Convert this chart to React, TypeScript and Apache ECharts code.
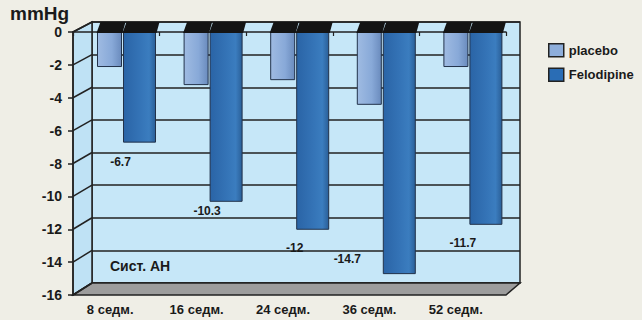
import React, { useEffect, useRef } from "react";
import * as echarts from "echarts";

const categories = ["8 седм.", "16 седм.", "24 седм.", "36 седм.", "52 седм."];
const placebo = [-2.1, -3.2, -2.9, -4.4, -2.1];
const felodipine = [-6.7, -10.3, -12, -14.7, -11.7];
const felLabelOffsets = [[-19, 20], [-19, 10], [-18, 19], [-52, -15], [-23, 19]];
const yTicks = [0, -2, -4, -6, -8, -10, -12, -14, -16];

const FONT = "Liberation Sans, Arial, sans-serif";
const DARK = "#1a1a1a";

function makeRender(kind: "placebo" | "fel") {
  return (params: any, api: any) => {
    const ci = api.value(0);
    const v = api.value(1);
    const [cx, yv] = api.coord([ci, v]);
    const [, y0] = api.coord([ci, 0]);
    const w = kind === "placebo" ? 24 : 32;
    const x0 = kind === "placebo" ? cx - 26 : cx;
    const fill =
      kind === "placebo"
        ? new echarts.graphic.LinearGradient(0, 0, 1, 0, [
            { offset: 0, color: "#9fbbe2" },
            { offset: 0.6, color: "#88a9d8" },
            { offset: 1, color: "#6a8bbd" },
          ])
        : new echarts.graphic.LinearGradient(0, 0, 1, 0, [
            { offset: 0, color: "#2a64a6" },
            { offset: 0.5, color: "#3473b6" },
            { offset: 0.8, color: "#3b7dbf" },
            { offset: 1, color: "#2a5f98" },
          ]);
    const children: any[] = [
      {
        type: "rect",
        shape: { x: x0, y: y0, width: w, height: yv - y0 },
        style: { fill, stroke: "#22324a", lineWidth: 1 },
      },
      {
        type: "polygon",
        shape: {
          points: [
            [x0 - 1, y0 + 1],
            [x0 + w + 1, y0 + 1],
            [x0 + w + 4, y0 - 10],
            [x0 + 3, y0 - 10],
          ],
        },
        style: { fill: "#141414" },
      },
    ];
    if (kind === "fel") {
      const off = felLabelOffsets[ci];
      children.push({
        type: "text",
        x: x0 + w / 2 + off[0],
        y: yv + off[1],
        style: {
          text: String(v),
          fill: DARK,
          font: `bold 12px ${FONT}`,
          align: "center",
          verticalAlign: "middle",
        },
      });
    }
    return { type: "group", children };
  };
}

export default function App() {
  const ref = useRef<HTMLDivElement>(null);
  useEffect(() => {
    const chart = echarts.init(ref.current!, undefined, { renderer: "svg" });
    chart.setOption({
      animation: false,
      backgroundColor: "#efeee6",
      textStyle: { fontFamily: FONT },
      grid: [
        { left: 92, top: 22, width: 428, height: 261, show: true, backgroundColor: "#c6e7f8", borderColor: "#222", borderWidth: 1.5, z: 0 },
        { left: 73, top: 32, width: 433, height: 263 },
        { left: 67, top: 32, width: 432, height: 263 },
        { left: 80.2, top: 32, width: 433, height: 263 },
      ],
      xAxis: [
        { type: "category", gridIndex: 0, data: categories, show: false },
        {
          type: "category",
          gridIndex: 1,
          data: categories,
          z: 3,
          axisLine: { show: true, lineStyle: { color: "#222", width: 1.5 } },
          axisTick: { show: true, length: 4, lineStyle: { color: "#222", width: 1.2 } },
          axisLabel: { show: false },
        },
        {
          type: "category",
          gridIndex: 2,
          data: categories,
          axisLine: { show: false },
          axisTick: { show: false },
          axisLabel: { show: true, margin: 8, color: DARK, fontWeight: "bold", fontSize: 13, fontFamily: FONT },
        },
        { type: "category", gridIndex: 3, data: categories, show: false },
      ],
      yAxis: [
        {
          type: "value",
          gridIndex: 0,
          min: -16,
          max: 0,
          interval: 2,
          axisLine: { show: false },
          axisTick: { show: false },
          axisLabel: { show: false },
          splitLine: { show: true, lineStyle: { color: "#222", width: 1.5 } },
        },
        {
          type: "value",
          gridIndex: 1,
          min: -16,
          max: 0,
          interval: 2,
          z: 3,
          axisLine: { show: true, lineStyle: { color: "#222", width: 1.5 } },
          axisTick: { show: true, length: 5, lineStyle: { color: "#222", width: 1.5 } },
          axisLabel: { margin: 11, color: DARK, fontWeight: "bold", fontSize: 14, lineHeight: 12, fontFamily: FONT },
          splitLine: { show: false },
        },
        { type: "value", gridIndex: 2, min: -16, max: 0, show: false },
        { type: "value", gridIndex: 3, min: -16, max: 0, show: false },
      ],
      legend: {
        left: 543,
        top: 38,
        orient: "vertical",
        icon: "rect",
        itemWidth: 15,
        itemHeight: 13,
        itemGap: 10,
        textStyle: { color: DARK, fontWeight: "bold", fontSize: 13, fontFamily: FONT },
        data: [
          { name: "placebo", itemStyle: { color: "#8eaedb", borderColor: "#222", borderWidth: 1.5 } },
          { name: "Felodipine", itemStyle: { color: "#2a6db5", borderColor: "#222", borderWidth: 1.5 } },
        ],
      },
      series: [
        {
          name: "placebo",
          type: "custom",
          xAxisIndex: 3,
          yAxisIndex: 3,
          z: 5,
          itemStyle: { color: "#8eaedb" },
          renderItem: makeRender("placebo"),
          encode: { x: 0, y: 1 },
          data: placebo.map((v, i) => [i, v]),
        },
        {
          name: "Felodipine",
          type: "custom",
          xAxisIndex: 3,
          yAxisIndex: 3,
          z: 6,
          itemStyle: { color: "#2a6db5" },
          renderItem: makeRender("fel"),
          encode: { x: 0, y: 1 },
          data: felodipine.map((v, i) => [i, v]),
        },
      ],
    });

    const fx = 73;
    const bx = 92;
    const yF = (v: number) => chart.convertToPixel({ yAxisIndex: 1 }, v) as number;
    const yB = (v: number) => chart.convertToPixel({ yAxisIndex: 0 }, v) as number;
    const frontRight = 506;
    const backRight = 520;
    const graphics: any[] = [
      {
        type: "polygon",
        z: 1,
        shape: { points: [[fx, yF(0)], [bx, yB(0)], [bx, yB(-16)], [fx, yF(-16)]] },
        style: { fill: "#bfe2f5", stroke: "#222", lineWidth: 1.5 },
      },
      {
        type: "polygon",
        z: 1,
        shape: { points: [[fx, yF(-16)], [frontRight, yF(-16)], [backRight, yB(-16)], [bx, yB(-16)]] },
        style: { fill: "#9d9d9d", stroke: "#222", lineWidth: 1.5 },
      },
      ...yTicks.map((v) => ({
        type: "line",
        z: 2,
        shape: { x1: fx, y1: yF(v), x2: bx, y2: yB(v) },
        style: { stroke: "#222", lineWidth: 1.5 },
      })),
      {
        type: "text",
        z: 4,
        x: 10,
        y: 4,
        style: { text: "mmHg", fill: DARK, font: `bold 19px ${FONT}`, align: "left", verticalAlign: "top", lineHeight: 19 },
      },
      {
        type: "text",
        z: 4,
        x: 110,
        y: 266,
        style: { text: "Сист. АН", fill: DARK, font: `bold 14px ${FONT}`, align: "left", verticalAlign: "middle" },
      },
    ];
    chart.setOption({ graphic: graphics });

    return () => chart.dispose();
  }, []);
  return (
    <div
      ref={ref}
      style={{ position: "fixed", left: 0, top: 0, width: 642, height: 320 }}
    />
  );
}
